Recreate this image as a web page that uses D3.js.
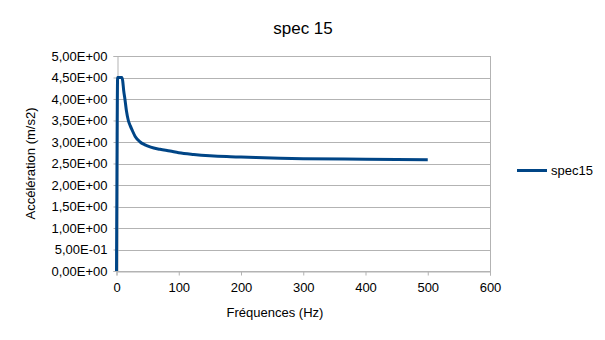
<!DOCTYPE html>
<html>
<head>
<meta charset="utf-8">
<script src="https://cdn.jsdelivr.net/npm/d3@7"></script>
<style>
  html, body { margin: 0; padding: 0; background: #fff; }
  svg text { font-family: "Liberation Sans", Arial, sans-serif; fill: #000; }
</style>
</head>
<body>
<svg id="chart" width="605" height="340"></svg>
<script>
// spectrum spec15: frequency (Hz) vs acceleration (m/s2)
const freqs = [0, 0.3, 1.8, 8.7, 10, 11.5, 13.5, 16, 19, 22, 25, 30, 38, 45, 55, 70, 86, 100, 124, 150, 177, 200, 263, 300, 400, 500];
const accel = [0, 0.95, 4.5, 4.5, 4.42, 4.2, 4.0, 3.72, 3.5, 3.38, 3.28, 3.13, 3.0, 2.94, 2.88, 2.83, 2.79, 2.75, 2.71, 2.68, 2.66, 2.65, 2.62, 2.61, 2.60, 2.59];
const xTicks = [0, 100, 200, 300, 400, 500, 600];
const yTicks = [0, 0.5, 1, 1.5, 2, 2.5, 3, 3.5, 4, 4.5, 5];
const seriesName = "spec15";
const chartTitle = "spec 15";
const xTitle = "Fréquences (Hz)";
const yTitle = "Accélération (m/s2)";

const svg = d3.select("#chart");
const plot = { left: 116.5, right: 490, top: 56, bottom: 271 };
const x = d3.scaleLinear().domain([0, 600]).range([plot.left, plot.right]);
const y = d3.scaleLinear().domain([0, 5]).range([plot.bottom, plot.top]);
const grid = "#b3b3b3";

// scientific-format labels with a decimal comma, e.g. 5,00E-01
function sci(v) {
  if (v === 0) return "0,00E+00";
  const e = Math.floor(Math.log10(Math.abs(v)));
  const m = (v / Math.pow(10, e)).toFixed(2).replace(".", ",");
  const es = (e < 0 ? "-" : "+") + String(Math.abs(e)).padStart(2, "0");
  return m + "E" + es;
}

// horizontal gridlines
svg.append("g").selectAll("line").data(yTicks).join("line")
  .attr("x1", plot.left).attr("x2", plot.right)
  .attr("y1", d => Math.round(y(d)) + 0.5).attr("y2", d => Math.round(y(d)) + 0.5)
  .attr("stroke", grid).attr("stroke-width", 1);

// right border
svg.append("line")
  .attr("x1", Math.round(plot.right) + 0.5).attr("x2", Math.round(plot.right) + 0.5)
  .attr("y1", plot.top).attr("y2", plot.bottom + 4)
  .attr("stroke", grid);

// x axis
const xAxis = d3.axisBottom(x).tickValues(xTicks).tickSize(4).tickPadding(7).tickFormat(d3.format("d"));
const gx = svg.append("g").attr("transform", `translate(0,${Math.round(plot.bottom) + 0.5})`).call(xAxis);
gx.select(".domain").attr("stroke", grid);
gx.selectAll(".tick line").attr("stroke", grid);
gx.selectAll(".tick text").attr("font-size", 13).attr("fill", "#000")
  .attr("font-family", "Liberation Sans, Arial, sans-serif");

// y axis
const yAxis = d3.axisLeft(y).tickValues(yTicks).tickSize(4).tickPadding(6).tickFormat(sci);
const gy = svg.append("g").attr("transform", `translate(${Math.round(plot.left) + 0.5},0)`).call(yAxis);
gy.select(".domain").attr("stroke", grid);
gy.selectAll(".tick line").attr("stroke", grid);
gy.selectAll(".tick text").attr("font-size", 13).attr("fill", "#000")
  .attr("font-family", "Liberation Sans, Arial, sans-serif");

// series line
const pts = freqs.map((f, i) => [f, accel[i]]);
svg.append("path").datum(pts)
  .attr("fill", "none").attr("stroke", "#004586").attr("stroke-width", 3)
  .attr("stroke-linejoin", "round")
  .attr("d", d3.line().curve(d3.curveMonotoneX).x(d => x(d[0])).y(d => y(d[1])));

// titles
svg.append("text").attr("x", 303).attr("y", 34).attr("text-anchor", "middle")
  .attr("font-size", 17).text(chartTitle);
svg.append("text").attr("x", 275).attr("y", 317).attr("text-anchor", "middle")
  .attr("font-size", 13).text(xTitle);
svg.append("text").attr("transform", `translate(35,${(plot.top + plot.bottom) / 2}) rotate(-90)`)
  .attr("text-anchor", "middle").attr("font-size", 13).text(yTitle);

// legend
svg.append("line").attr("x1", 517).attr("x2", 547).attr("y1", 170.5).attr("y2", 170.5)
  .attr("stroke", "#004586").attr("stroke-width", 3);
svg.append("text").attr("x", 551).attr("y", 175).attr("font-size", 13).text(seriesName);
</script>
</body>
</html>
